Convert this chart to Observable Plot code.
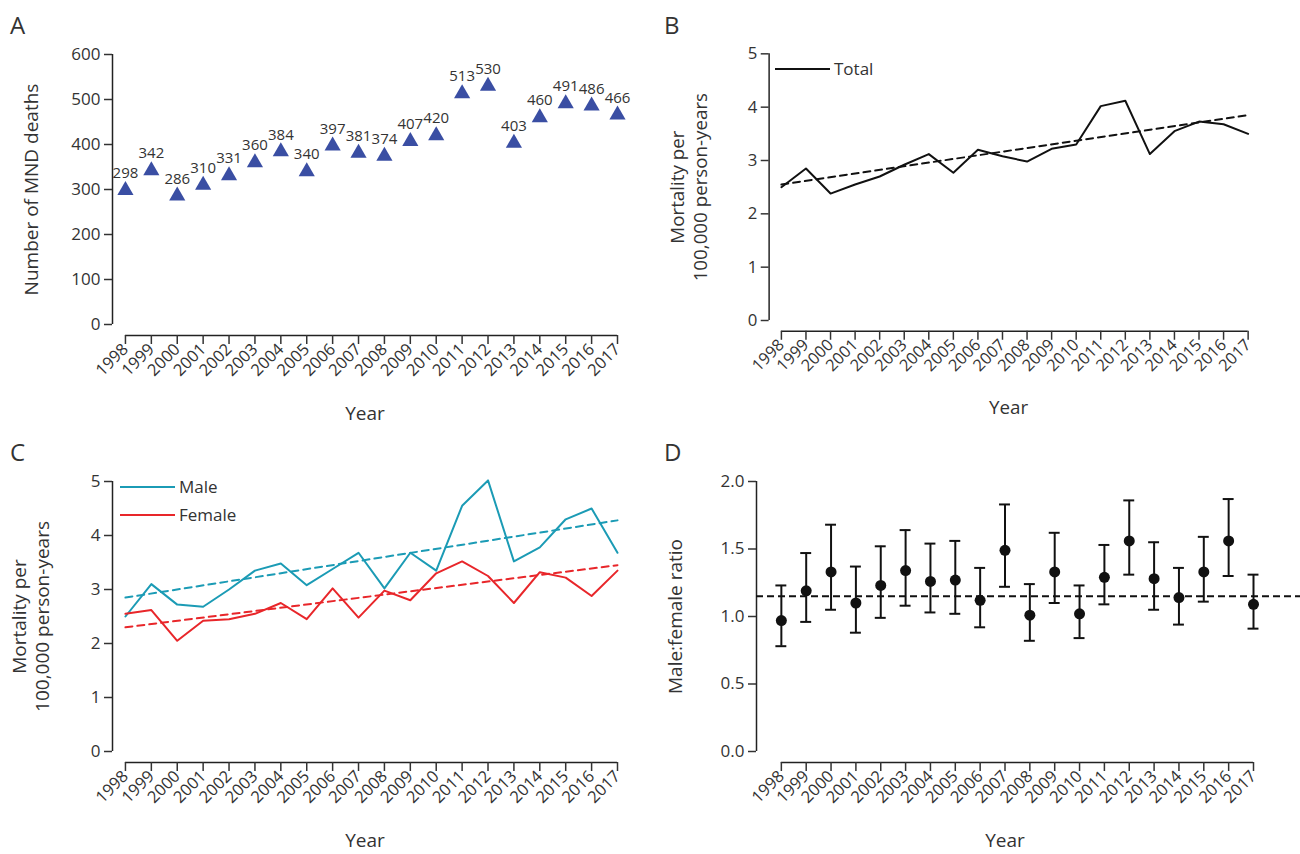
<!DOCTYPE html>
<html><head><meta charset="utf-8">
<script src="https://cdn.jsdelivr.net/npm/d3@7"></script>
<script src="https://cdn.jsdelivr.net/npm/@observablehq/plot@0.6"></script>
<style>
body{margin:0;background:#fff;font-family:"Open Sans",sans-serif;color:#333;overflow:hidden}
#wrap{position:relative;width:1300px;height:854px;overflow:hidden}
.p{position:absolute}
.lab{position:absolute;font-size:24px;color:#333}
.leg{position:absolute;font-size:17px;display:flex;align-items:center;gap:4px}
.leg span.l{display:inline-block;width:55px;height:0;border-top:2px solid}
</style></head><body>
<div id="wrap"></div>
<script>
const years = d3.range(1998, 2018);
const deaths = [298,342,286,310,331,360,384,340,397,381,374,407,420,513,530,403,460,491,486,466];
const total = [2.5,2.85,2.38,2.55,2.7,2.92,3.12,2.77,3.2,3.08,2.98,3.22,3.3,4.02,4.12,3.12,3.55,3.73,3.68,3.5];
const totalTrend = [2.55,3.85];
const male = [2.5,3.1,2.72,2.68,3.0,3.35,3.48,3.08,3.38,3.68,3.02,3.68,3.35,4.55,5.02,3.52,3.78,4.3,4.5,3.68];
const female = [2.55,2.62,2.05,2.42,2.45,2.55,2.75,2.45,3.02,2.48,2.98,2.8,3.3,3.52,3.25,2.75,3.32,3.22,2.88,3.35];
const maleTrend = [2.85,4.28];
const femaleTrend = [2.3,3.45];
const ratio = [0.97,1.19,1.33,1.1,1.23,1.34,1.26,1.27,1.12,1.49,1.01,1.33,1.02,1.29,1.56,1.28,1.14,1.33,1.56,1.09];
const ratioLo = [0.78,0.96,1.05,0.88,0.99,1.08,1.03,1.02,0.92,1.22,0.82,1.1,0.84,1.09,1.31,1.05,0.94,1.11,1.3,0.91];
const ratioHi = [1.23,1.47,1.68,1.37,1.52,1.64,1.54,1.56,1.36,1.83,1.24,1.62,1.23,1.53,1.86,1.55,1.36,1.59,1.87,1.31];
const ratioRef = 1.15;

const MALE = "#1b9bb5", FEMALE = "#e8262a";
const wrap = d3.select("#wrap");

function panel({left, top, ymax, yticks, yfmt, ylabel, marks, marginRight = 33, x0 = 1997.5}) {
  const marginLeft = 112;
  const chart = Plot.plot({
    width: 650, height: 427,
    marginLeft, marginTop: 54, marginBottom: 103, marginRight,
    style: {fontFamily: "Open Sans", fontSize: "16px", color: "#333", overflow: "visible"},
    x: {type: "linear", domain: [x0, 2017], axis: null},
    y: {type: "linear", domain: [0, ymax], axis: null},
    marks: [
      Plot.ruleX([x0], {y1: 0, y2: ymax, stroke: "#222", strokeWidth: 1.5}),
      Plot.axisY({ticks: yticks, tickFormat: yfmt, tickSize: 8, tickPadding: 4, fontSize: 17, label: null, strokeWidth: 1.5}),
      Plot.ruleY([0], {x1: 1998, x2: 2017, dy: 11, stroke: "#222", strokeWidth: 1.5}),
      Plot.axisX({ticks: years, tickFormat: "d", tickSize: 9, tickPadding: 2, tickRotate: -45, dy: 11, fontSize: 16.5, label: null, strokeWidth: 1.5}),
      Plot.text([ylabel], {frameAnchor: "left", textAnchor: "middle", dx: -(marginLeft - 30), rotate: -90, fontSize: 19, lineHeight: 1.2}),
      Plot.text(["Year"], {frameAnchor: "bottom", dy: 95, fontSize: 19}),
      ...marks
    ]
  });
  wrap.append("div").attr("class", "p").style("left", left + "px").style("top", top + "px").node().append(chart);
}

panel({left: 0, top: 0, ymax: 600, yticks: d3.range(0, 601, 100), yfmt: d => d,
  ylabel: "Number of MND deaths",
  marks: [
    Plot.dot(years, {x: d => d, y: (d, i) => deaths[i], symbol: "triangle", r: 6, fill: "#3a4ea3"}),
    Plot.text(years, {x: d => d, y: (d, i) => deaths[i], text: (d, i) => deaths[i], dy: -17, fontSize: 15})
  ]});

panel({left: 658, top: 0, ymax: 5, yticks: d3.range(0, 6), yfmt: d => d, marginRight: 53,
  ylabel: "Mortality per\n100,000 person-years",
  marks: [
    Plot.lineY(total, {x: years, y: d => d, stroke: "#111", strokeWidth: 2}),
    Plot.line([1998, 2017], {x: d => d, y: (d, i) => totalTrend[i], stroke: "#111", strokeWidth: 2, strokeDasharray: "7,5"})
  ]});

panel({left: 0, top: 427, ymax: 5, yticks: d3.range(0, 6), yfmt: d => d,
  ylabel: "Mortality per\n100,000 person-years",
  marks: [
    Plot.lineY(male, {x: years, y: d => d, stroke: MALE, strokeWidth: 2}),
    Plot.lineY(female, {x: years, y: d => d, stroke: FEMALE, strokeWidth: 2}),
    Plot.line([1998, 2017], {x: d => d, y: (d, i) => maleTrend[i], stroke: MALE, strokeWidth: 2, strokeDasharray: "7,5"}),
    Plot.line([1998, 2017], {x: d => d, y: (d, i) => femaleTrend[i], stroke: FEMALE, strokeWidth: 2, strokeDasharray: "7,5"})
  ]});

panel({left: 644, top: 427, ymax: 2, yticks: d3.range(0, 2.01, 0.5), yfmt: d3.format(".1f"),
  ylabel: "Male:female ratio", marginRight: 41, x0: 1997,
  marks: [
    Plot.ruleY([ratioRef], {x1: 1997, x2: 2018.9, stroke: "#111", strokeWidth: 2, strokeDasharray: "7,4"}),
    Plot.ruleX(years, {x: d => d, y1: (d, i) => ratioLo[i], y2: (d, i) => ratioHi[i], stroke: "#111", strokeWidth: 2}),
    Plot.ruleY(years, {x1: d => d - 0.22, x2: d => d + 0.22, y: (d, i) => ratioLo[i], stroke: "#111", strokeWidth: 2}),
    Plot.ruleY(years, {x1: d => d - 0.22, x2: d => d + 0.22, y: (d, i) => ratioHi[i], stroke: "#111", strokeWidth: 2}),
    Plot.dot(years, {x: d => d, y: (d, i) => ratio[i], r: 5.5, fill: "#111"})
  ]});

const labels = [["A", 10, 8], ["B", 664, 8], ["C", 10, 435], ["D", 664, 435]];
for (const [t, x, y] of labels) wrap.append("div").attr("class", "lab").style("left", x + "px").style("top", y + "px").text(t);

function legend(x, y, color, text) {
  const d = wrap.append("div").attr("class", "leg").style("left", x + "px").style("top", y + "px");
  d.append("span").attr("class", "l").style("border-color", color);
  d.append("span").text(text);
}
legend(775, 57, "#111", "Total");
legend(120, 475, MALE, "Male");
legend(120, 503, FEMALE, "Female");
</script></body></html>
